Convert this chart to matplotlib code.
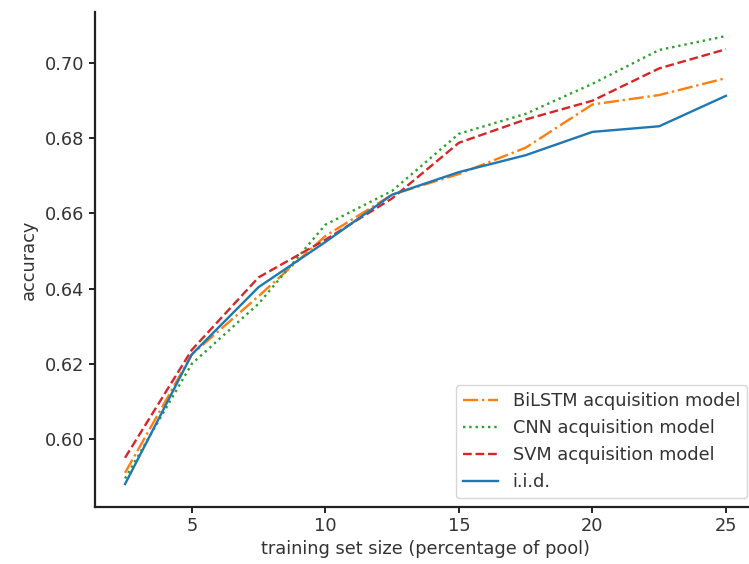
import matplotlib
matplotlib.use("Agg")
import matplotlib.pyplot as plt
import matplotlib.ticker as mticker

# training set size (percentage of pool)
sizes = [2.5, 5, 7.5, 10, 12.5, 15, 17.5, 20, 22.5, 25]

bilstm_acc = [0.591, 0.6225, 0.638, 0.654, 0.665, 0.6705, 0.6775, 0.689, 0.6915, 0.696]
cnn_acc = [0.5895, 0.6200, 0.636, 0.657, 0.666, 0.6812, 0.6865, 0.6945, 0.7035, 0.7072]
svm_acc = [0.595, 0.6237, 0.643, 0.653, 0.664, 0.6788, 0.6850, 0.6900, 0.6986, 0.7037]
iid_acc = [0.588, 0.6225, 0.6404, 0.6524, 0.665, 0.6710, 0.6755, 0.6817, 0.6832, 0.6913]

TXT = "#333333"
FS = 12.8

fig = plt.figure(figsize=(7.49, 5.64), dpi=100)
# axes run slightly past the right edge of the picture, as in the reference
ax = fig.add_axes([95 / 749, 57 / 564, 661 / 749, 495 / 564])

ax.plot(sizes, bilstm_acc, color="tab:orange", linestyle="-.", linewidth=1.7, label="BiLSTM acquisition model")
ax.plot(sizes, cnn_acc, color="tab:green", linestyle=":", linewidth=1.7, label="CNN acquisition model")
ax.plot(sizes, svm_acc, color="tab:red", linestyle="--", linewidth=1.7, label="SVM acquisition model")
ax.plot(sizes, iid_acc, color="tab:blue", linestyle="-", linewidth=1.7, label="i.i.d.")

ax.set_xlim(1.375, 26.125)
ax.set_ylim(0.5819, 0.7136)
ax.set_xticks([5, 10, 15, 20, 25])
ax.set_yticks([0.60, 0.62, 0.64, 0.66, 0.68, 0.70])
ax.yaxis.set_major_formatter(mticker.FormatStrFormatter("%.2f"))
ax.spines["top"].set_visible(False)
ax.spines["right"].set_visible(False)
for side in ("left", "bottom"):
    ax.spines[side].set_linewidth(1.6)
    ax.spines[side].set_color("#222222")

ax.set_xlabel("training set size (percentage of pool)", fontsize=FS, color=TXT, labelpad=3)
ax.set_ylabel("accuracy", fontsize=FS, color=TXT, labelpad=5)
ax.tick_params(labelsize=FS, labelcolor=TXT, color="#222222", width=1.4, length=4)
leg = ax.legend(loc="lower right", fontsize=FS, borderaxespad=0.5)
for t in leg.get_texts():
    t.set_color(TXT)

fig.savefig("out.png", dpi=100)
